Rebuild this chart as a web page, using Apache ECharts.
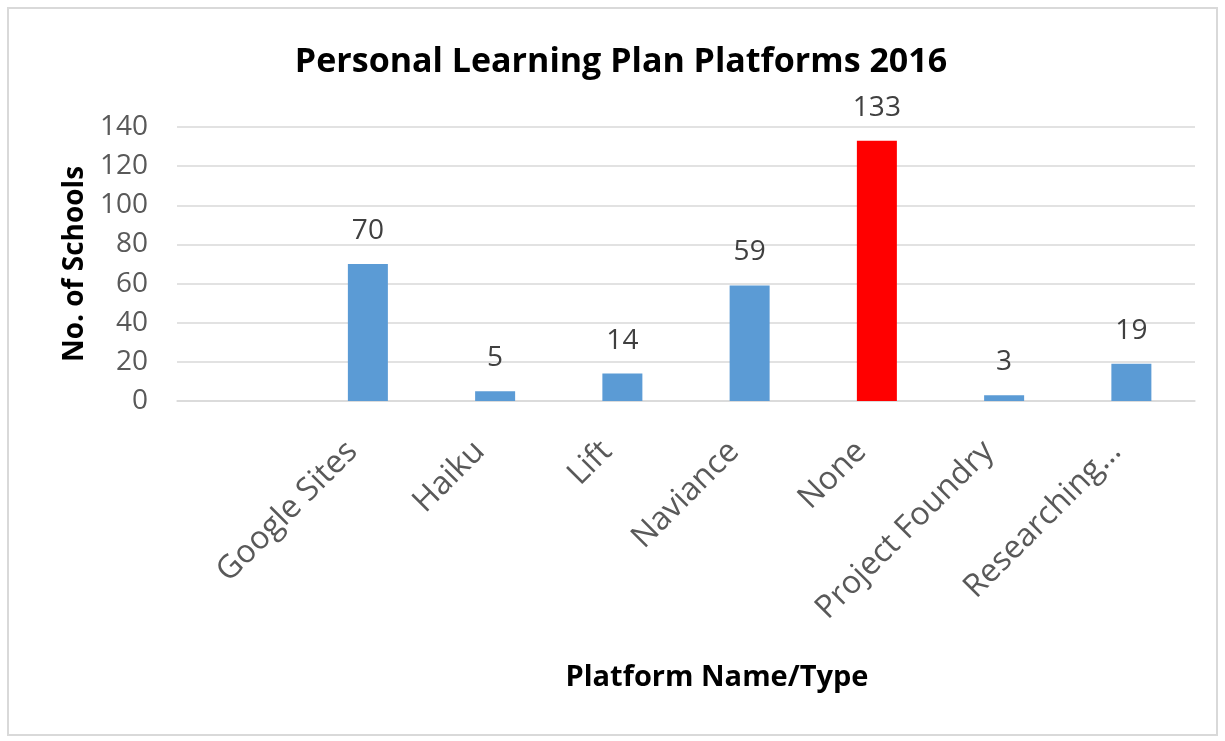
<!DOCTYPE html>
<html><head><meta charset="utf-8">
<script src="https://cdn.jsdelivr.net/npm/echarts@6/dist/echarts.min.js"></script>
<style>html,body{margin:0;padding:0;background:#fff}#c{width:1225px;height:741px}</style>
</head><body><div id="c"></div>
<script>
const categories = ["", "Google Sites", "Haiku", "Lift", "Naviance", "None", "Project Foundry", "Researching\u2026"];
const schools = [null, 70, 5, 14, 59, 133, 3, 19];
const barColors = [null, "#5B9BD5", "#5B9BD5", "#5B9BD5", "#5B9BD5", "#FF0000", "#5B9BD5", "#5B9BD5"];
const yTicks = { min: 0, max: 140, interval: 20 };

const chart = echarts.init(document.getElementById('c'), null, { renderer: 'canvas' });
const FONT = '"Open Sans", sans-serif';
chart.setOption({
  animation: false,
  backgroundColor: '#fff',
  graphic: [{ type: 'rect', shape: { x: 8, y: 8, width: 1209, height: 727 }, style: { fill: 'none', stroke: '#d9d9d9', lineWidth: 2 }, silent: true }],
  title: {
    text: 'Personal Learning Plan Platforms 2016', left: 616, top: 40, textAlign: 'center',
    textStyle: { fontFamily: FONT, fontWeight: 'bold', fontSize: 34, color: '#000' }
  },
  grid: { left: 177, right: 30, top: 127, bottom: 340, containLabel: false },
  xAxis: {
    type: 'category', data: categories,
    axisLine: { show: true, lineStyle: { color: '#d9d9d9', width: 1.5 } },
    axisTick: { show: false },
    axisLabel: { rotate: 45, margin: 30, padding: [0, 22, 0, 0], color: '#595959', fontFamily: FONT, fontSize: 32, interval: 0 },
    name: 'Platform Name/Type', nameLocation: 'middle', nameGap: 262,
    nameTextStyle: { fontFamily: FONT, fontWeight: 'bold', fontSize: 29, color: '#000', padding: [0, 0, 0, 62] }
  },
  yAxis: {
    type: 'value', min: yTicks.min, max: yTicks.max, interval: yTicks.interval,
    axisLine: { show: false }, axisTick: { show: false },
    splitLine: { lineStyle: { color: '#d9d9d9', width: 1.5 } },
    axisLabel: { color: '#595959', fontFamily: FONT, fontSize: 28, margin: 29 },
    name: 'No. of Schools', nameLocation: 'middle', nameGap: 78, nameRotate: 90,
    nameTextStyle: { fontFamily: FONT, fontWeight: 'bold', fontSize: 28, color: '#000' }
  },
  series: [{
    type: 'bar', barWidth: 40,
    data: schools.map((v, i) => ({ value: v, itemStyle: { color: barColors[i] } })),
    label: { show: true, position: 'top', distance: 19, color: '#404040', fontFamily: FONT, fontSize: 28 }
  }]
});
</script></body></html>
